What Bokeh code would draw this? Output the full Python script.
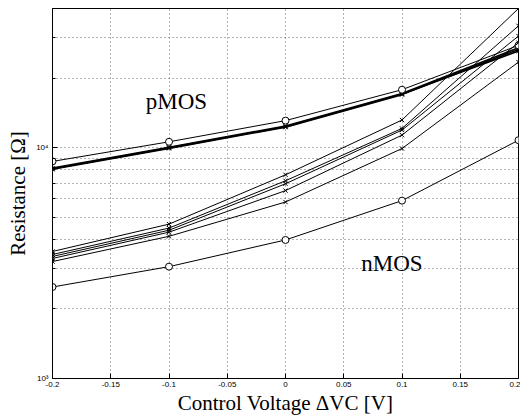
from bokeh.plotting import figure
from bokeh.models import Range1d, FixedTicker, Label
from bokeh.embed import file_html
from bokeh.resources import INLINE

# ---- data ----
vc = [-0.2, -0.1, 0.0, 0.1, 0.2]

# pMOS curves
p_circle = [8710, 10590, 13080, 17800, 27690]
p_a = [8090, 9970, 12310, 17040, 26180]
p_b = [8150, 10030, 12400, 17150, 27040]
p_c = [8050, 9920, 12250, 16950, 26600]

# nMOS curves
n_1 = [3548, 4660, 7620, 13160, 40000]
n_2 = [3443, 4480, 7180, 12100, 33650]
n_3 = [3377, 4385, 6970, 11900, 30400]
n_4 = [3310, 4300, 6510, 11320, 28450]
n_5 = [3210, 4127, 5810, 9900, 23440]
n_circle = [2490, 3050, 3980, 5890, 10760]

x_ticks = [-0.2, -0.15, -0.1, -0.05, 0, 0.05, 0.1, 0.15, 0.2]
x_tick_labels = {-0.2: "-0.2", -0.15: "-0.15", -0.1: "-0.1", -0.05: "-0.05", 0: "0",
                 0.05: "0.05", 0.1: "0.1", 0.15: "0.15", 0.2: "0.2"}
y_major = [1000, 10000]
y_minor = [2000, 3000, 4000, 5000, 6000, 7000, 8000, 9000, 20000, 30000, 40000]
y_tick_labels = {1000: "10³", 10000: "10⁴"}

SERIF = "Liberation Serif"
SANS = "Liberation Sans"

p = figure(width=520, height=417, y_axis_type="log",
           x_range=Range1d(-0.2, 0.2), y_range=Range1d(1000, 40000),
           output_backend="svg", toolbar_location=None,
           min_border_left=52, min_border_top=8, min_border_right=2, min_border_bottom=10)
p.background_fill_color = "white"
p.border_fill_color = "white"
p.outline_line_color = "black"
p.outline_line_width = 1

# axes
xa = p.xaxis[0]
xa.ticker = FixedTicker(ticks=x_ticks)
xa.major_label_overrides = x_tick_labels
xa.axis_label = "Control Voltage ΔVC [V]"
ya = p.yaxis[0]
ya.ticker = FixedTicker(ticks=y_major, minor_ticks=y_minor)
ya.major_label_overrides = y_tick_labels
ya.axis_label = "Resistance [Ω]"
for ax in (xa, ya):
    ax.major_tick_in = 5
    ax.major_tick_out = 0
    ax.minor_tick_in = 3
    ax.minor_tick_out = 0
    ax.axis_line_color = "black"
    ax.major_tick_line_color = "black"
    ax.minor_tick_line_color = "black"
    ax.major_label_text_font = SANS
    ax.major_label_text_font_size = "8px"
    ax.major_label_text_color = "black"
    ax.axis_label_text_font = SERIF
    ax.axis_label_text_font_size = "21px"
    ax.axis_label_text_font_style = "normal"
    ax.axis_label_text_color = "black"
xa.major_label_standoff = 3
xa.axis_label_standoff = 1
ya.major_label_standoff = 4
ya.axis_label_standoff = 3
ya.major_label_orientation = "horizontal"

# grid
p.xgrid.ticker = FixedTicker(ticks=x_ticks)
p.xgrid.grid_line_color = "black"
p.xgrid.grid_line_dash = "1 3"
p.xgrid.grid_line_alpha = 0.6
p.ygrid.ticker = FixedTicker(ticks=y_major, minor_ticks=y_minor)
p.ygrid.grid_line_color = "black"
p.ygrid.grid_line_dash = "1 3"
p.ygrid.grid_line_alpha = 0.6
p.ygrid.minor_grid_line_color = "black"
p.ygrid.minor_grid_line_dash = "1 3"
p.ygrid.minor_grid_line_alpha = 0.6

# curves
def curve(ys, marker, lw=1.0):
    p.line(vc, ys, line_color="black", line_width=lw)
    if marker == "circle":
        p.scatter(vc, ys, marker="circle", size=7, fill_color="white",
                  line_color="black", line_width=1)
    else:
        p.scatter(vc, ys, marker="x", size=6, line_color="black", line_width=1)

for ys in (p_a, p_b, p_c):
    curve(ys, "x", 1.6)
curve(p_circle, "circle")
for ys in (n_1, n_2, n_3, n_4, n_5):
    curve(ys, "x", 1.0)
curve(n_circle, "circle")

# annotations
p.add_layout(Label(x=-0.12, y=15890, text="pMOS", text_font=SERIF,
                   text_font_size="23px", text_baseline="middle", text_align="left",
                   text_color="black"))
p.add_layout(Label(x=0.065, y=3150, text="nMOS", text_font=SERIF,
                   text_font_size="23px", text_baseline="middle", text_align="left",
                   text_color="black"))

open("out.html", "w").write(file_html(p, INLINE))
